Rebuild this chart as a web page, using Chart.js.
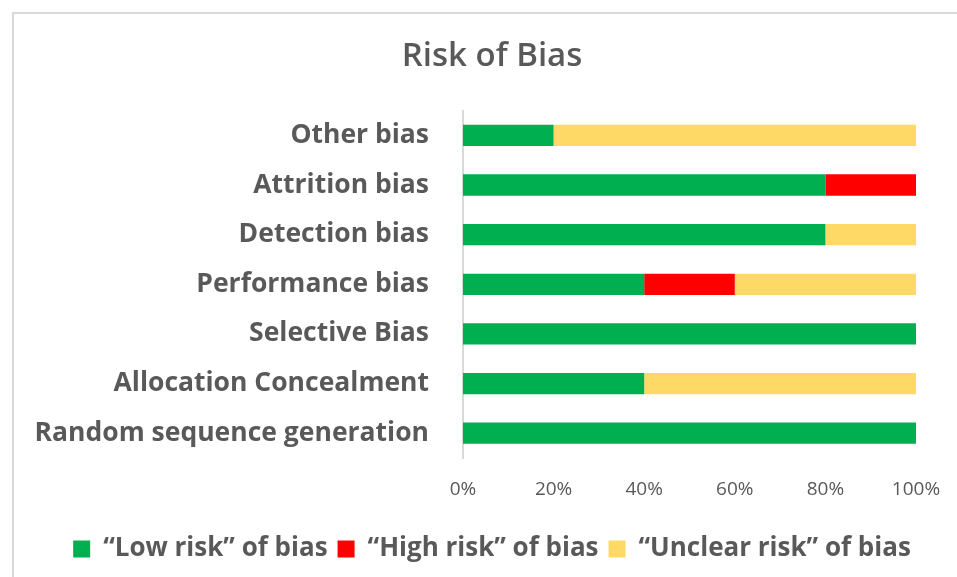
<!DOCTYPE html>
<html>
<head>
<meta charset="utf-8">
<script src="https://cdn.jsdelivr.net/npm/chart.js@4"></script>
<style>
  html, body { margin: 0; padding: 0; background: #ffffff; overflow: hidden; }
  #frame { position: absolute; left: 12px; top: 12px; width: 980px; height: 600px; border: 2px solid #d9d9d9; box-sizing: border-box; }
  #wrap { position: absolute; left: 0; top: 0; width: 984px; height: 577px; }
</style>
</head>
<body>
<div id="frame"></div>
<div id="wrap"><canvas id="c" width="984" height="577"></canvas></div>
<script>
const categories = ["Other bias", "Attrition bias", "Detection bias", "Performance bias", "Selective Bias", "Allocation Concealment", "Random sequence generation"];
const lowRisk     = [20, 80, 80, 40, 100, 40, 100];
const highRisk    = [0, 20, 0, 20, 0, 0, 0];
const unclearRisk = [80, 0, 20, 40, 0, 60, 0];
const seriesNames = ["\u201CLow risk\u201D of bias", "\u201CHigh risk\u201D of bias", "\u201CUnclear risk\u201D of bias"];
const xTicks = [0, 20, 40, 60, 80, 100];

const grey = '#595959';
new Chart(document.getElementById('c'), {
  type: 'bar',
  data: {
    labels: categories,
    datasets: [
      { label: seriesNames[0], data: lowRisk, backgroundColor: '#00B050' },
      { label: seriesNames[1], data: highRisk, backgroundColor: '#FF0000' },
      { label: seriesNames[2], data: unclearRisk, backgroundColor: '#FFD966' }
    ]
  },
  options: {
    indexAxis: 'y',
    responsive: false,
    animation: false,
    devicePixelRatio: 1,
    layout: { padding: { left: 0, right: 0, top: 0, bottom: 5 } },
    datasets: { bar: { barPercentage: 0.43, categoryPercentage: 1, borderWidth: 0 } },
    plugins: {
      title: {
        display: true, text: 'Risk of Bias', color: grey,
        font: { family: '"Open Sans", sans-serif', size: 33, weight: 600 },
        padding: { top: 37, bottom: 34 }
      },
      legend: {
        position: 'bottom',
        labels: {
          color: grey, boxWidth: 17, boxHeight: 17, padding: 10,
          font: { family: '"Open Sans", sans-serif', size: 26, weight: 'bold' }
        }
      },
      tooltip: { enabled: false }
    },
    scales: {
      x: {
        stacked: true, min: 0, max: 100,
        afterBuildTicks: (s) => { s.ticks = xTicks.map(v => ({ value: v })); },
        ticks: { color: grey, padding: 20, callback: (v) => v + '%', font: { family: '"Open Sans", sans-serif', size: 19 } },
        grid: { display: false, drawTicks: false },
        border: { display: false },
        afterFit: (s) => { s.height = 68; }
      },
      y: {
        stacked: true,
        ticks: { color: grey, padding: 34, font: { family: '"Open Sans", sans-serif', size: 26.5, weight: 'bold' } },
        grid: { display: false, drawTicks: false },
        border: { display: true, color: '#d9d9d9', width: 2 },
        afterFit: (s) => { s.width = 463; }
      },
      yRight: {
        type: 'category', position: 'right', display: true,
        ticks: { display: false },
        grid: { display: false, drawTicks: false },
        border: { display: false },
        afterFit: (s) => { s.width = 68; }
      }
    }
  }
});
</script>
</body>
</html>
